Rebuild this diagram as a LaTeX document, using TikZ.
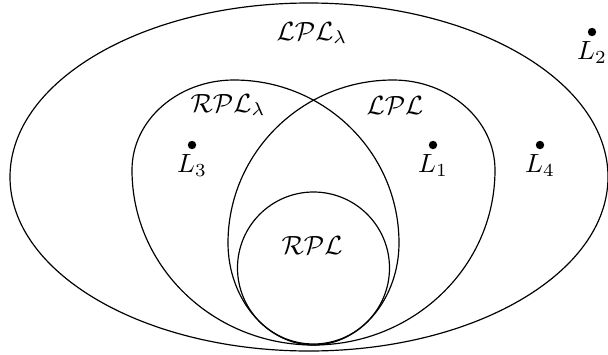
\documentclass[tikz,border=0pt]{standalone}
\usepackage{amsmath,amssymb}
\usepackage{tikz}
\usetikzlibrary{positioning}
\tikzset{
  conjunto/.style={draw=black,line width=0.45pt},
  punto/.style={circle,fill=black,inner sep=0pt,minimum size=3.2pt},
  nombre/.style={inner sep=1pt},
  rotulo/.style={inner sep=1pt},
}

\begin{document}
\begin{tikzpicture}[x=0.38pt,y=-0.38pt]
\useasboundingbox (0,0) rectangle (608,354);
\coordinate (fondo) at (313.5,345);
% outer set and the two eggs
\draw[conjunto] (309,177) ellipse [x radius=299, y radius=174];
\draw[conjunto] (fondo) .. controls (213.5,345) and (132,267) .. (132,170)
  .. controls (132,120) and (178,80) .. (234,80)
  .. controls (325,80) and (399,153) .. (399,243)
  .. controls (399,299) and (360,345) .. (fondo);
\draw[conjunto] (fondo) .. controls (413.5,345) and (495,267) .. (495,170)
  .. controls (495,120) and (449,80) .. (393,80)
  .. controls (302,80) and (228,153) .. (228,243)
  .. controls (228,299) and (267,345) .. (fondo);
\draw[conjunto] (313.5,268) circle [radius=76];
% set names
\node[rotulo] (lpllam) at (312,33) {$\mathcal{LPL}_\lambda$};
\node[rotulo] (rpllam) at (228,105) {$\mathcal{RPL}_\lambda$};
\node[rotulo] (lpl) at (395,106) {$\mathcal{LPL}$};
\node[rotulo] (rpl) at (312,246) {$\mathcal{RPL}$};
% languages
\node[punto] (p1) at (433,145) {};
\node[punto] (p2) at (592,32) {};
\node[punto] (p3) at (192,145) {};
\node[punto] (p4) at (540,145) {};
\node[nombre,below=0.5pt of p1] (n1) {$L_1$};
\node[nombre,below=0.5pt of p2] (n2) {$L_2$};
\node[nombre,below=0.5pt of p3] (n3) {$L_3$};
\node[nombre,below=0.5pt of p4] (n4) {$L_4$};
\end{tikzpicture}
\end{document}
